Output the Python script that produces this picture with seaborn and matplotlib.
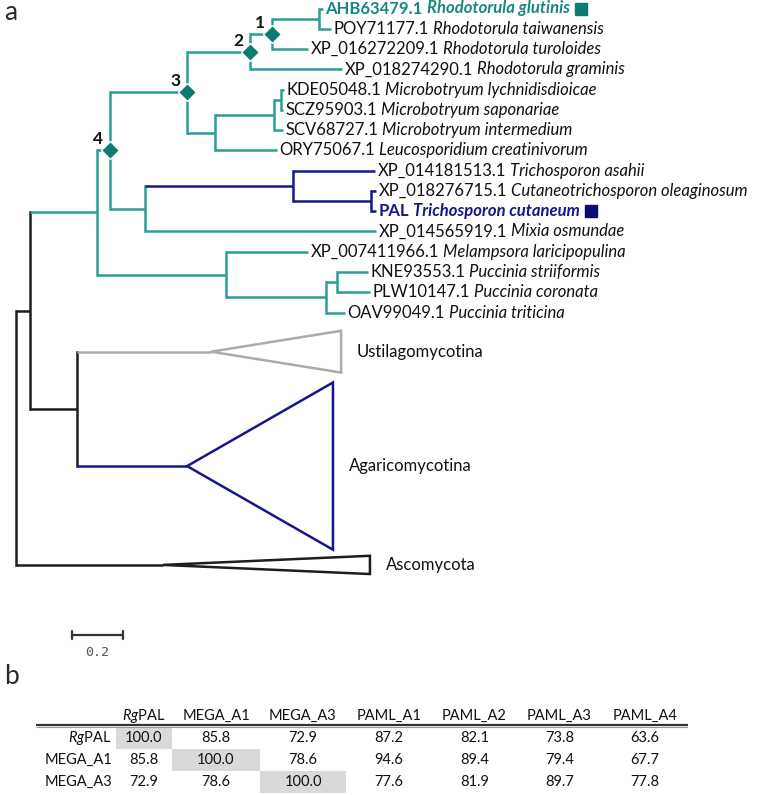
import numpy as np
import matplotlib
matplotlib.use("Agg")
import matplotlib.pyplot as plt
from matplotlib.patches import Polygon, Rectangle
import seaborn as sns

# ---- tree data (top to bottom), depths in substitutions/site from the root ----
leaf_ids = ["AHB63479.1", "POY71177.1", "XP_016272209.1", "XP_018274290.1",
            "KDE05048.1", "SCZ95903.1", "SCV68727.1", "ORY75067.1",
            "XP_014181513.1", "XP_018276715.1", "PAL", "XP_014565919.1",
            "XP_007411966.1", "KNE93553.1", "PLW10147.1", "OAV99049.1"]
leaf_species = ["Rhodotorula glutinis", "Rhodotorula taiwanensis", "Rhodotorula turoloides",
                "Rhodotorula graminis", "Microbotryum lychnidisdioicae", "Microbotryum saponariae",
                "Microbotryum intermedium", "Leucosporidium creatinivorum", "Trichosporon asahii",
                "Cutaneotrichosporon oleaginosum", "Trichosporon cutaneum", "Mixia osmundae",
                "Melampsora laricipopulina", "Puccinia striiformis", "Puccinia coronata",
                "Puccinia triticina"]
leaf_depth = [1.204, 1.235, 1.145, 1.278, 1.051, 1.047, 1.047, 1.024,
              1.408, 1.412, 1.412, 1.412, 1.145, 1.380, 1.388, 1.290]

# collapsed clades: stem (apex) depth, tip depth, row extent
clade_names = ["Ustilagomycotina", "Agaricomycotina", "Ascomycota"]
clade_stem = [0.765, 0.671, 0.576]
clade_tip = [1.275, 1.243, 1.388]
clade_top = [15.9, 18.45, 27.0]
clade_bottom = [17.96, 26.7, 27.9]

# internal nodes (children listed before parents)
node_names = ["G", "n1", "n2", "KS", "M2", "M", "n3", "TC", "TB", "TM", "n4",
              "R", "Q", "P", "T", "N2", "N1", "root"]
node_depth = [1.188, 1.004, 0.918, 1.039, 1.012, 0.780, 0.671, 1.392, 1.086, 0.506,
              0.369, 1.259, 1.216, 0.824, 0.318, 0.239, 0.053, 0.0]
node_children = [
    ["AHB63479.1", "POY71177.1"],
    ["G", "XP_016272209.1"],
    ["n1", "XP_018274290.1"],
    ["KDE05048.1", "SCZ95903.1"],
    ["KS", "SCV68727.1"],
    ["M2", "ORY75067.1"],
    ["n2", "M"],
    ["XP_018276715.1", "PAL"],
    ["XP_014181513.1", "TC"],
    ["TB", "XP_014565919.1"],
    ["n3", "TM"],
    ["KNE93553.1", "PLW10147.1"],
    ["R", "OAV99049.1"],
    ["XP_007411966.1", "Q"],
    ["n4", "P"],
    ["Ustilagomycotina", "Agaricomycotina"],
    ["T", "N2"],
    ["N1", "Ascomycota"],
]
marked_nodes = ["n1", "n2", "n3", "n4"]
marked_labels = ["1", "2", "3", "4"]
scale_length = 0.2

# ---- identity table ----
col_labels = ["$\\mathit{Rg}$PAL", "MEGA_A1", "MEGA_A3", "PAML_A1", "PAML_A2", "PAML_A3", "PAML_A4"]
row_labels = ["$\\mathit{Rg}$PAL", "MEGA_A1", "MEGA_A3"]
identity = [
    [100.0, 85.8, 72.9, 87.2, 82.1, 73.8, 63.6],
    [85.8, 100.0, 78.6, 94.6, 89.4, 79.4, 67.7],
    [72.9, 78.6, 100.0, 77.6, 81.9, 89.7, 77.8],
]

# ---- styles / layout ----
W, H = 757, 795
PX_UNIT = 255.0      # pixels per substitution unit
ROOT_PX = 16.0
ROW_PX = 20.27
ROW0_PX = 8.5
LW = 1.8
FS = 12

TEAL = "#2b9e96"
TEAL_DARK = "#0e7a70"
TEAL_TEXT = "#16887e"
NAVY = "#16168a"
BLACK = "#1e1e1e"
GREY = "#ababab"

branch_colour = {"root": BLACK, "T": TEAL, "TB": NAVY,
                 "Ustilagomycotina": GREY, "Agaricomycotina": NAVY}
highlight = {"AHB63479.1": (TEAL_TEXT, TEAL_DARK), "PAL": (NAVY, "#0b0b70")}

sns.set_theme(style="white")
plt.rcParams["font.family"] = ["Lato", "DejaVu Sans"]
plt.rcParams["mathtext.fontset"] = "custom"
plt.rcParams["mathtext.rm"] = "Lato"
plt.rcParams["mathtext.it"] = "Lato:italic"

fig = plt.figure(figsize=(W / 100, H / 100), dpi=100)
ax = fig.add_axes([0, 0, 1, 1])
ax.set_xlim(-ROOT_PX / PX_UNIT, (W - ROOT_PX) / PX_UNIT)
ax.set_ylim((H - ROW0_PX) / ROW_PX, -ROW0_PX / ROW_PX)
ax.axis("off")

# positions
depth = dict(zip(leaf_ids, leaf_depth))
depth.update(zip(clade_names, clade_stem))
depth.update(zip(node_names, node_depth))
ypos = {name: float(i) for i, name in enumerate(leaf_ids)}
for c, t, b in zip(clade_names, clade_top, clade_bottom):
    ypos[c] = (t + b) / 2
parent = {}
for name, kids in zip(node_names, node_children):
    ys = [ypos[k] for k in kids]
    ypos[name] = (min(ys) + max(ys)) / 2
    for k in kids:
        parent[k] = name


def colour(name):
    while name not in branch_colour:
        name = parent[name]
    return branch_colour[name]


# branches
for name, kids in zip(node_names, node_children):
    ys = [ypos[k] for k in kids]
    ax.plot([depth[name]] * 2, [min(ys), max(ys)], color=colour(name), lw=LW,
            solid_capstyle="projecting", zorder=2)
    for k in kids:
        ax.plot([depth[name], depth[k]], [ypos[k]] * 2, color=colour(k), lw=LW,
                solid_capstyle="butt", zorder=2)

# collapsed clades
for c, s, tip, top, bot in zip(clade_names, clade_stem, clade_tip, clade_top, clade_bottom):
    tri = Polygon([(s, ypos[c]), (tip, top), (tip, bot)], closed=True, fill=False,
                  edgecolor=colour(c), lw=LW, joinstyle="miter", zorder=2)
    ax.add_patch(tri)
    ax.text(tip + 16 / PX_UNIT, ypos[c], c, fontsize=FS, va="center", ha="left", color="#111")

# marked nodes
for n, lab in zip(marked_nodes, marked_labels):
    ax.plot(depth[n], ypos[n], marker="D", ms=9.5, mfc=TEAL_DARK, mec="white", mew=1.0, zorder=4)
    ax.annotate(lab, (depth[n], ypos[n]), xytext=(-12, 11), textcoords="offset pixels",
                ha="center", va="center", fontsize=12.5, fontweight="bold", color="#111")

# leaf labels
fig.canvas.draw()
renderer = fig.canvas.get_renderer()
inv = ax.transData.inverted()
for i, (acc, sp) in enumerate(zip(leaf_ids, leaf_species)):
    x0 = leaf_depth[i] + 2.5 / PX_UNIT
    col, sq = highlight.get(acc, ("#111", None))
    w = "bold" if sq else "normal"
    t1 = ax.text(x0, i, acc, fontsize=FS, va="center", ha="left", color=col, fontweight=w)
    x1 = inv.transform((t1.get_window_extent(renderer).x1, 0))[0] + 4 / PX_UNIT
    t2 = ax.text(x1, i, sp, fontsize=FS, va="center", ha="left", color=col,
                 fontweight=w, style="italic")
    if sq:
        x2 = inv.transform((t2.get_window_extent(renderer).x1, 0))[0] + 11 / PX_UNIT
        ax.plot(x2, i, marker="s", ms=8.5, color=sq, zorder=4)

# scale bar
sb_x = (72 - ROOT_PX) / PX_UNIT
sb_y = (635 - ROW0_PX) / ROW_PX
ax.plot([sb_x, sb_x + scale_length], [sb_y, sb_y], color="#333", lw=1.6, solid_capstyle="butt")
for xe in (sb_x, sb_x + scale_length):
    ax.plot([xe, xe], [sb_y - 0.2, sb_y + 0.2], color="#333", lw=1.6)
ax.text(sb_x + scale_length / 2, (652 - ROW0_PX) / ROW_PX, f"{scale_length}",
        family="DejaVu Sans Mono", fontsize=9.5, color="#555", ha="center", va="center")

# panel letters
fig.text(4 / W, 1 - 13 / H, "a", fontsize=19, va="center", ha="left", color="#2a2a2a")
fig.text(4 / W, 1 - 677 / H, "b", fontsize=19, va="center", ha="left", color="#2a2a2a")

# ---- table ----
TAB_LEFT, TAB_TOP = 36, 705
LABEL_W = 80
COL_W = [56, 88, 86, 86, 85, 85, 86]
ROW_H = 22
tab_w = LABEL_W + sum(COL_W)
n_rows = len(row_labels) + 1
tab = fig.add_axes([TAB_LEFT / W, 1 - (TAB_TOP + n_rows * ROW_H) / H, tab_w / W, n_rows * ROW_H / H])
tab.set_xlim(0, tab_w)
tab.set_ylim(n_rows, 0)
tab.axis("off")

edges = np.concatenate([[LABEL_W], LABEL_W + np.cumsum(COL_W)])
centers = (edges[:-1] + edges[1:]) / 2
for j, lab in enumerate(col_labels):
    tab.text(centers[j], 0.5, lab, ha="center", va="center", fontsize=10.5, color="#111")
tab.plot([0, tab_w], [0.9, 0.9], color="#333", lw=1.6, solid_capstyle="butt")
tab.plot([0, tab_w], [1.0, 1.0], color="#999", lw=0.8, solid_capstyle="butt")
for i, (rl, vals) in enumerate(zip(row_labels, identity)):
    yc = i + 1.5
    tab.text(LABEL_W - 4, yc, rl, ha="right", va="center", fontsize=10.5, color="#111")
    for j, v in enumerate(vals):
        if col_labels[j] == rl:
            tab.add_patch(Rectangle((edges[j], i + 1.02), COL_W[j], 0.98,
                                    facecolor="#d9d9d9", edgecolor="none", zorder=0))
        tab.text(centers[j], yc, f"{v:.1f}", ha="center", va="center", fontsize=10.5, color="#111")

fig.savefig("out.png", dpi=100)
